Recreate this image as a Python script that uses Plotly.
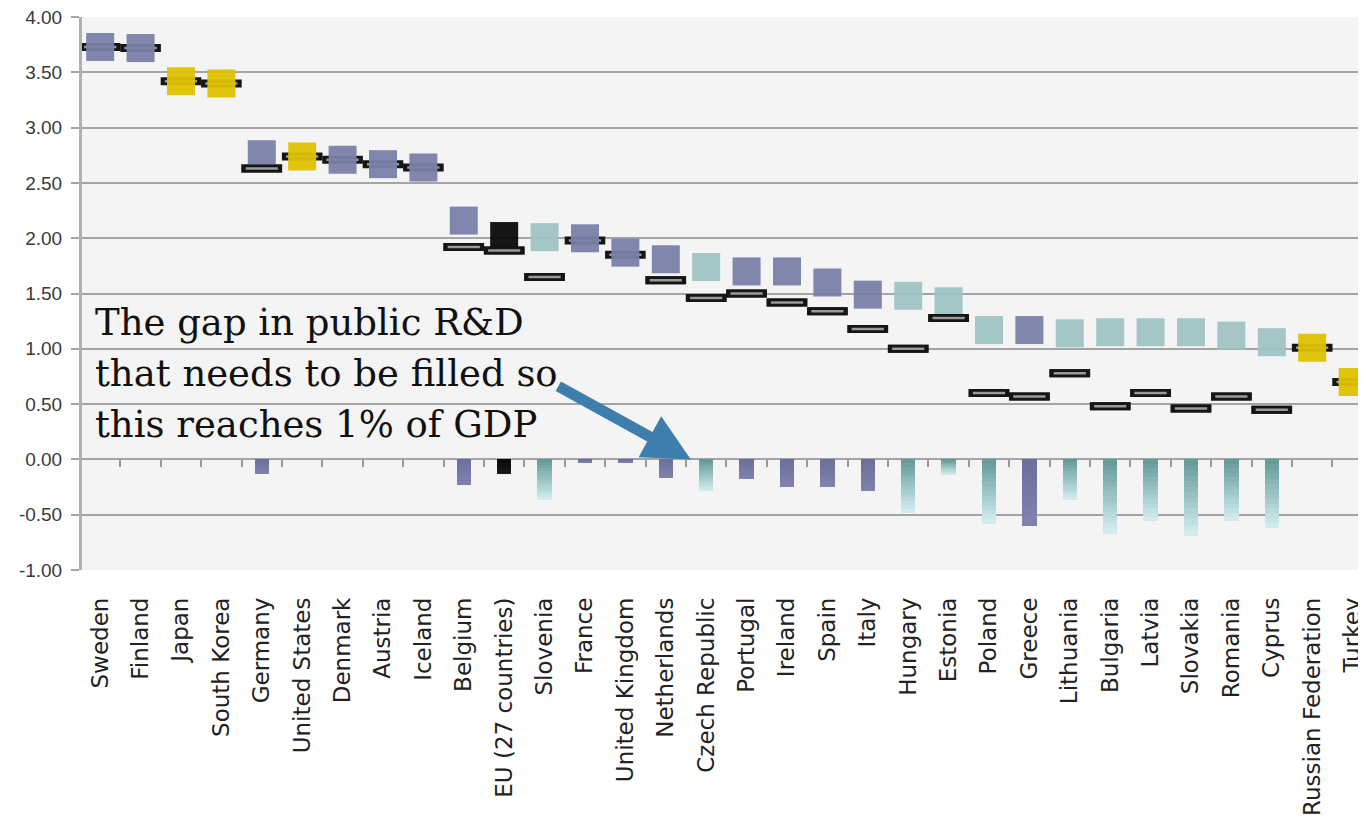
import plotly.graph_objects as go

countries = ["Sweden", "Finland", "Japan", "South Korea", "Germany", "United States",
             "Denmark", "Austria", "Iceland", "Belgium", "EU (27 countries)", "Slovenia",
             "France", "United Kingdom", "Netherlands", "Czech Republic", "Portugal",
             "Ireland", "Spain", "Italy", "Hungary", "Estonia", "Poland", "Greece",
             "Lithuania", "Bulgaria", "Latvia", "Slovakia", "Romania", "Cyprus",
             "Russian Federation", "Turkey"]

# country group: B = EU-15 / other OECD, Y = non-EU, T = new member states, K = EU average
groups = ["B", "B", "Y", "Y", "B", "Y", "B", "B", "B", "B", "K", "T",
          "B", "B", "B", "T", "B", "B", "B", "B", "T", "T", "T", "B",
          "T", "T", "T", "T", "T", "T", "Y", "Y"]

# R&D intensity if public R&D reached 1% of GDP (squares)
total_rd = [3.73, 3.72, 3.42, 3.40, 2.76, 2.74, 2.71, 2.67, 2.64, 2.16, 2.02, 2.01,
            2.00, 1.87, 1.81, 1.74, 1.70, 1.70, 1.60, 1.49, 1.48, 1.43, 1.17, 1.17,
            1.14, 1.15, 1.15, 1.15, 1.12, 1.06, 1.01, 0.70]

# current R&D intensity (dashes)
current_rd = [3.73, 3.72, 3.42, 3.40, 2.63, 2.74, 2.71, 2.67, 2.64, 1.92, 1.89, 1.65,
              1.98, 1.85, 1.62, 1.46, 1.50, 1.42, 1.34, 1.18, 1.00, 1.28, 0.60, 0.57,
              0.78, 0.48, 0.60, 0.46, 0.57, 0.45, 1.01, 0.70]

# gap in public R&D (bars below zero)
gap = [0, 0, 0, 0, -0.13, 0, 0, 0, 0, -0.23, -0.13, -0.37,
       -0.03, -0.03, -0.17, -0.29, -0.18, -0.25, -0.25, -0.29, -0.48, -0.14, -0.58, -0.60,
       -0.37, -0.67, -0.56, -0.69, -0.56, -0.62, 0, 0]

y_ticks = [-1.0, -0.5, 0.0, 0.5, 1.0, 1.5, 2.0, 2.5, 3.0, 3.5, 4.0]
y_tick_labels = ["-1.00", "-0.50", "0.00", "0.50", "1.00", "1.50", "2.00",
                 "2.50", "3.00", "3.50", "4.00"]

annotation_lines = ["The gap in public R&D", "that needs to be filled so",
                    "this reaches 1% of GDP"]

# ---- styling ----
square_colors = {"B": "#7a7fa8", "Y": "#dfc100", "T": "#a0c3c3", "K": "#0a0a0a"}
bar_top = {"B": (106, 110, 154), "Y": (223, 193, 0), "T": (92, 150, 148), "K": (10, 10, 10)}
bar_bottom = {"B": (126, 130, 172), "Y": (223, 193, 0), "T": (210, 236, 238), "K": (25, 25, 25)}

x_idx = list(range(len(countries)))
y_min, y_max = -1.0, 4.0
x_range = [-0.45, 31.53]


def mix(c1, c2, t):
    return "rgb(%d,%d,%d)" % tuple(round(a + (b - a) * t) for a, b in zip(c1, c2))


def dash_traces(values):
    return [
        go.Scatter(x=x_idx, y=values, mode="markers",
                   marker=dict(symbol="line-ew", size=29, line=dict(width=8, color="#151515")),
                   showlegend=False, hoverinfo="skip"),
        go.Scatter(x=x_idx, y=values, mode="markers",
                   marker=dict(symbol="line-ew", size=23, line=dict(width=2.5, color="#9a9a9a")),
                   showlegend=False, hoverinfo="skip"),
    ]


fig = go.Figure()

# gap bars, layered to give a vertical gradient
steps = 14
for k in range(steps, 0, -1):
    frac = k / steps
    fig.add_trace(go.Bar(
        x=x_idx, y=[g * frac for g in gap], base=0, width=0.36,
        marker=dict(color=[mix(bar_top[g], bar_bottom[g], frac) for g in groups],
                    line=dict(width=0)),
        showlegend=False, hoverinfo="skip"))

# current R&D dashes behind the squares
for tr in dash_traces(current_rd):
    fig.add_trace(tr)

# squares
fig.add_trace(go.Scatter(
    x=x_idx, y=total_rd, mode="markers",
    marker=dict(symbol="square", size=28, color=[square_colors[g] for g in groups],
                opacity=0.95, line=dict(width=0)),
    showlegend=False, hoverinfo="skip"))

# dashes that sit clearly below their square are drawn on top
front_dash = [c if (t - c) > 0.1 else None for c, t in zip(current_rd, total_rd)]
for tr in dash_traces(front_dash):
    fig.add_trace(tr)

# empty trace on the overlay axis that carries the tick marks on the zero line
fig.add_trace(go.Scatter(x=[None], y=[None], xaxis="x2", showlegend=False, hoverinfo="skip"))

fig.update_layout(
    width=1366, height=828,
    margin=dict(l=74, r=0, t=9, b=266),
    paper_bgcolor="white", plot_bgcolor="#f4f4f4",
    barmode="overlay", bargap=0,
    xaxis=dict(range=x_range, tickmode="array", tickvals=x_idx, ticktext=countries,
               tickangle=-90, showgrid=False, zeroline=False, showline=False, ticks="",
               ticklabelstandoff=22, automargin=False,
               tickfont=dict(family="DejaVu Sans", size=23, color="#222222")),
    xaxis2=dict(range=x_range, overlaying="x", anchor="free",
                position=(0 - y_min) / (y_max - y_min),
                tickmode="array", tickvals=[i + 0.5 for i in x_idx], ticks="outside",
                ticklen=7, tickwidth=1.5, tickcolor="#9a9a9a", showticklabels=False,
                showgrid=False, zeroline=False, showline=False, automargin=False),
    yaxis=dict(range=[y_min, y_max + 0.001], tickmode="array", tickvals=y_ticks,
               ticktext=y_tick_labels, showgrid=True, gridcolor="#a4a4a4", gridwidth=2,
               zeroline=False, showline=True, linecolor="#b0b0b0", linewidth=3,
               ticks="outside", ticklen=8, tickwidth=2, tickcolor="#a4a4a4",
               ticklabelstandoff=5, automargin=False, ticklabeloverflow="allow",
               tickfont=dict(family="Liberation Sans", size=19, color="#3a3a3a")),
    showlegend=False,
)

for i, line in enumerate(annotation_lines):
    fig.add_annotation(
        xref="paper", yref="y", x=0.0, y=1.45, xanchor="left", yanchor="top",
        xshift=11, yshift=-51 * i,
        text=line, showarrow=False, align="left",
        font=dict(family="DejaVu Serif", size=37, color="#111111"))

fig.add_annotation(
    xref="x", yref="y", x=14.62, y=0.0, ax=-134, ay=-74, text="",
    showarrow=True, arrowhead=2, arrowsize=0.85, arrowwidth=11, arrowcolor="#3d7eac",
    standoff=0)

fig.write_html("out.html")
